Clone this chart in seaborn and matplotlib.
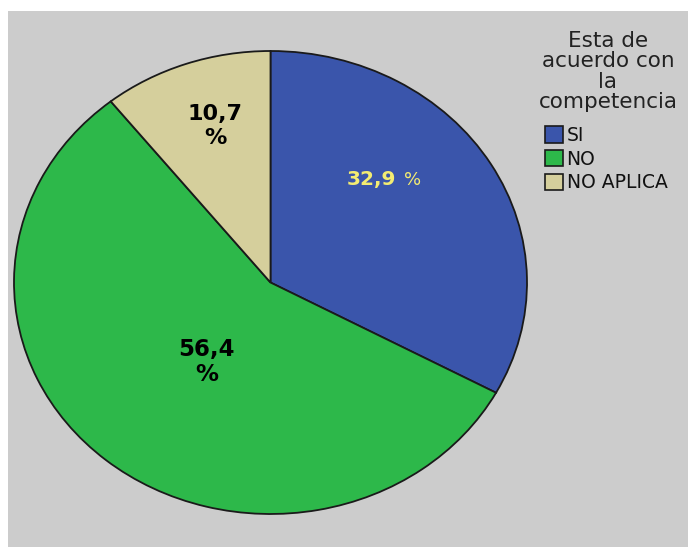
import matplotlib
matplotlib.use("Agg")
import matplotlib.pyplot as plt
from matplotlib.patches import Patch
import seaborn as sns

categories = ["SI", "NO", "NO APLICA"]
percentages = [32.9, 56.4, 10.7]
label_texts = ["32,9", "56,4", "10,7"]
legend_title = "Esta de\nacuerdo con\nla\ncompetencia"

sns.set_theme(style="white")
plt.rcParams["font.family"] = ["DejaVu Sans"]

colors = sns.color_palette(["#3a55ab", "#2db84a", "#d5cf9c"])

W, H = 688, 547
fig = plt.figure(figsize=(W / 100, H / 100), dpi=100, facecolor="white")

# grey chart area
bg = fig.add_axes([8 / W, 0, 1 - 8 / W, 1 - 11 / H], zorder=-5)
bg.set_facecolor("#cccccc")
bg.set_xticks([])
bg.set_yticks([])
for s in bg.spines.values():
    s.set_visible(False)

# elliptical pie: axes box spans the ellipse
ax = fig.add_axes([14 / W, (H - 514) / H, 513 / W, 463 / H], zorder=1)
ax.patch.set_alpha(0)
wedges, _ = ax.pie(percentages, colors=colors, startangle=90, counterclock=False,
                   radius=1.0, wedgeprops=dict(edgecolor="#1a1a1a", linewidth=1.3))
ax.set_aspect("auto")
ax.set_xlim(-1, 1)
ax.set_ylim(-1, 1)
ax.set_axis_off()

# slice labels
ax.text(0.488, 0.443, label_texts[0], ha="right", va="center", fontsize=14.5,
        fontweight="bold", color="#f3ec72")
ax.text(0.52, 0.443, "%", ha="left", va="center", fontsize=13,
        color="#f3ec72")
ax.text(-0.25, -0.343, label_texts[1] + "\n%", ha="center", va="center",
        fontsize=16.5, fontweight="bold", color="black", linespacing=1.15)
ax.text(-0.215, 0.678, label_texts[2] + "\n%", ha="center", va="center",
        fontsize=16, fontweight="bold", color="black", linespacing=1.25)

# legend title and entries
fig.text(608 / W, 1 - 71.5 / H, legend_title, ha="center", va="center",
         multialignment="center", fontsize=15.5, linespacing=1.03,
         color="#222222")
handles = [Patch(facecolor=c, edgecolor="#1a1a1a", linewidth=1.2) for c in colors]
leg = fig.legend(handles, categories,
                 loc="upper left", bbox_to_anchor=(545 / W, 1 - 126 / H),
                 borderaxespad=0, frameon=False, fontsize=13.5,
                 handlelength=0.95, handleheight=0.95, handletextpad=0.2,
                 labelspacing=0.25, borderpad=0)
for t in leg.get_texts():
    t.set_color("#111111")

fig.savefig("out.png", dpi=100, facecolor="white")
